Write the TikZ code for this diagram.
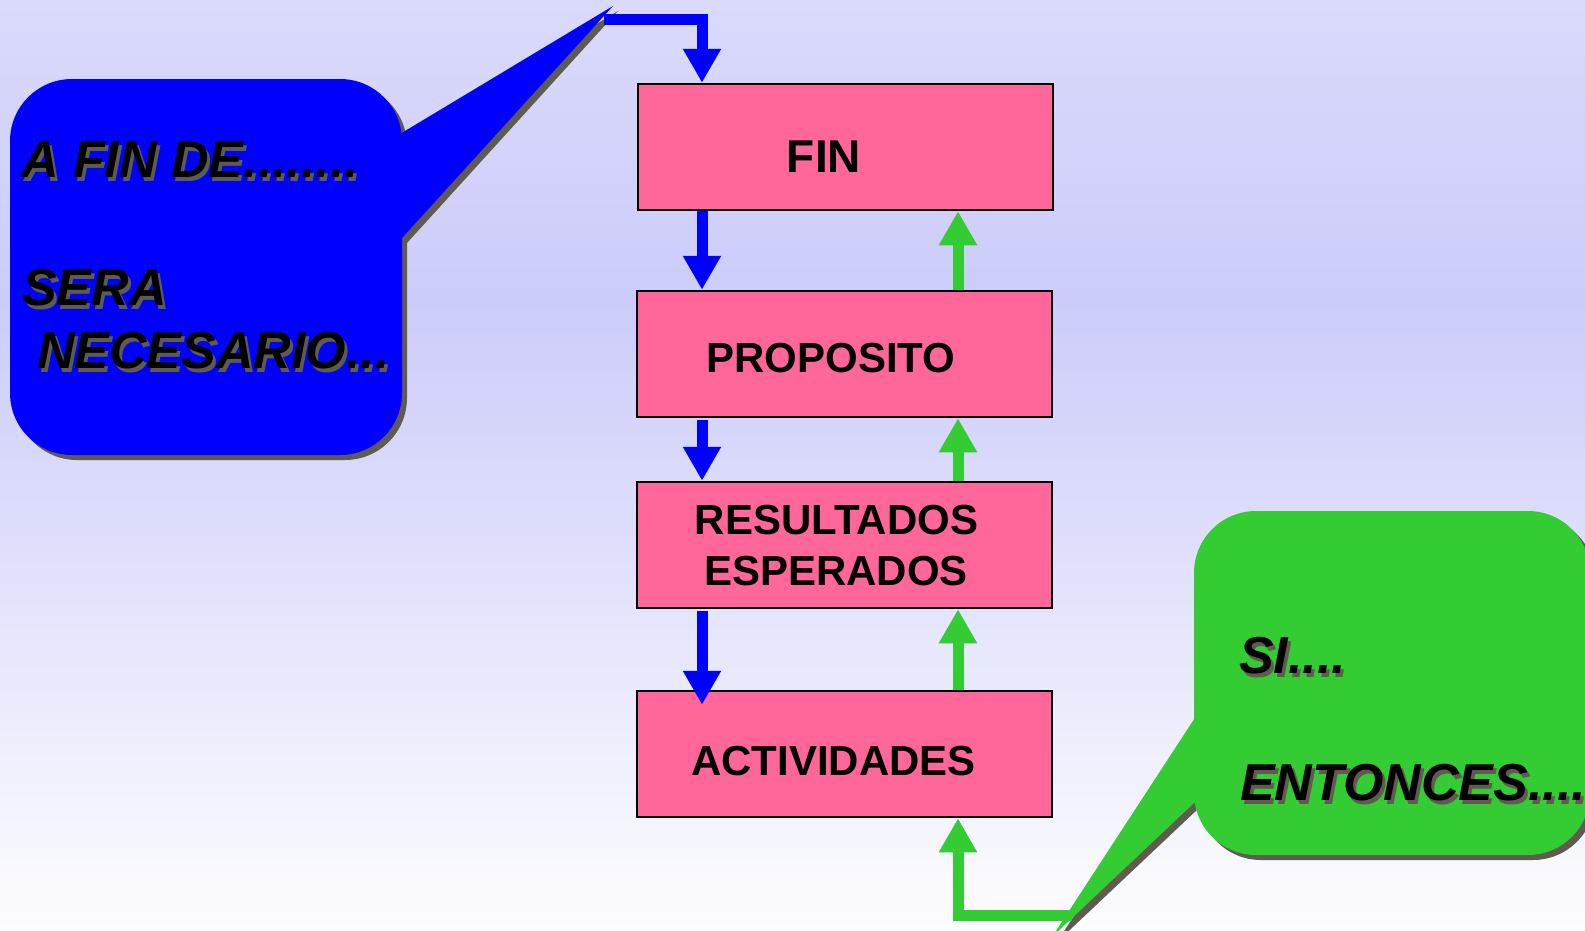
\documentclass[tikz,border=0pt]{standalone}
\usepackage{fontspec}
\setmainfont{Liberation Sans}
\usetikzlibrary{arrows.meta,calc}
\definecolor{bgtop}{RGB}{218,218,252}
\definecolor{bgmid}{RGB}{204,204,250}
\definecolor{bgbot}{RGB}{253,253,255}
\definecolor{pinkc}{RGB}{255,102,153}
\definecolor{bluec}{RGB}{0,0,255}
\definecolor{greenc}{RGB}{51,204,51}
\definecolor{shadowc}{RGB}{96,91,80}
\begin{document}
\begin{tikzpicture}[x=1pt,y=-1pt,
  pbox/.style={draw=black,line width=2.5pt,fill=pinkc,minimum width=415pt,minimum height=126pt,inner sep=0pt},
  btxt/.style={font=\fontsize{42}{50}\selectfont\bfseries,anchor=base,inner sep=0pt},
  ctxt/.style={font=\fontsize{52}{60}\selectfont\bfseries\itshape,anchor=base west,inner sep=0pt},
  ctxtshadow/.style={ctxt,text=shadowc},
  bluearr/.style={draw=bluec,line width=11pt,-{Triangle[width=36pt,length=34pt]}},
  greenarr/.style={draw=greenc,line width=11pt,-{Triangle[width=36pt,length=34pt]}},
  bubble/.style={rounded corners=62pt}
]
\useasboundingbox (0,0) rectangle (1585,930);
\clip (0,0) rectangle (1585,930);
% background
\fill[top color=bgtop,bottom color=bgmid] (0,0) rectangle (1585,300.5);
\fill[top color=bgmid,bottom color=bgbot] (0,300) rectangle (1585,930);

% blue callout (shadow then body)
\fill[shadowc,bubble] (15,84) rectangle (407,460);
\fill[shadowc] (400,142) -- (618,11) -- (407,243) -- (400,243) -- cycle;
\fill[bluec,bubble] (10,79) rectangle (402,455);
\fill[bluec] (395,137) -- (613,6) -- (402,238) -- (395,238) -- cycle;
\coordinate (bstart) at (604,19);

% green callout
\fill[shadowc,bubble] (1199,516) rectangle (1595,860);
\fill[shadowc] (1205,715) -- (1057,942) -- (1199,808) -- (1205,808) -- cycle;
\fill[greenc,bubble] (1194,511) rectangle (1590,855);
\fill[greenc] (1200,710) -- (1052,937) -- (1194,803) -- (1200,803) -- cycle;
\coordinate (gstart) at (1072,915);

% boxes
\node[pbox] (fin)  at (845.5,147) {};
\node[pbox] (prop) at (844.5,354) {};
\node[pbox] (res)  at (844.5,545) {};
\node[pbox] (act)  at (844.5,754) {};

\coordinate (bx) at (702,0);
\coordinate (gx) at (958,0);

% box texts
\node[btxt,font=\fontsize{46}{54}\selectfont\bfseries] (finT) at (824,172) {FIN};
\node[btxt] (propT) at (831,372) {PROPOSITO};
\node[btxt] (resT1) at (836.5,534) {RESULTADOS};
\node[btxt] (resT2) at (836,585) {ESPERADOS};
\node[btxt] (actT) at (833.5,775) {ACTIVIDADES};

% blue arrows
\draw[bluearr] (bstart) -| (fin.north -| bx);
\draw[bluearr] (fin.south -| bx) -- (prop.north -| bx);
\draw[bluearr] ($(prop.south -| bx)+(0,2)$) -- (res.north -| bx);
\draw[bluearr] ($(res.south -| bx)+(0,2)$) -- ($(act.north -| bx)+(0,15)$);

% green arrows
\draw[greenarr] (prop.north -| gx) -- (fin.south -| gx);
\draw[greenarr] (res.north -| gx) -- (prop.south -| gx);
\draw[greenarr] (act.north -| gx) -- (res.south -| gx);
\draw[greenarr] (gstart) -| (act.south -| gx);

% callout texts
\node[ctxtshadow] (t1s) at (24,181) {A FIN DE........};
\node[ctxt] (t1) at (21,177) {A FIN DE........};
\node[ctxtshadow] (t2s) at (25,309) {SERA};
\node[ctxt] (t2) at (22,305) {SERA};
\node[ctxtshadow] (t3s) at (40,372) {NECESARIO...};
\node[ctxt] (t3) at (37,368) {NECESARIO...};
\node[ctxtshadow] (t4s) at (1242,677) {SI....};
\node[ctxt] (t4) at (1239,673) {SI....};
\node[ctxtshadow] (t5s) at (1243,804) {ENTONCES....};
\node[ctxt] (t5) at (1240,800) {ENTONCES....};
\end{tikzpicture}
\end{document}
